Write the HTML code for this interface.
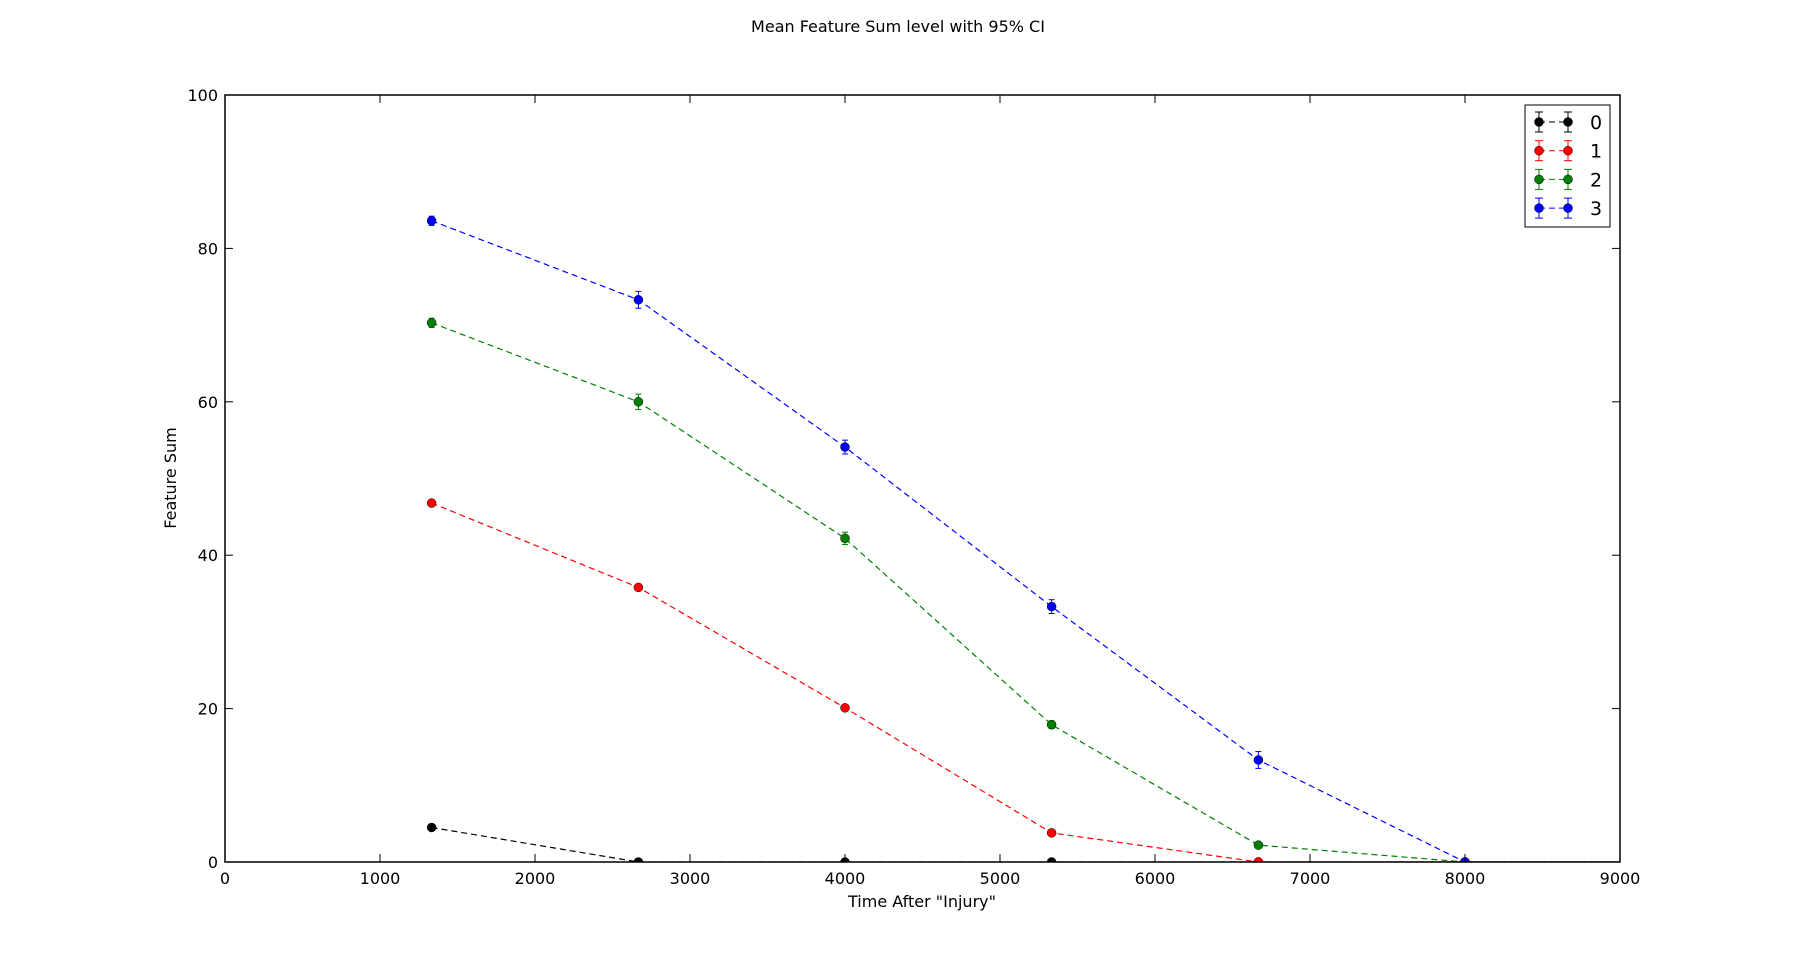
<!DOCTYPE html>
<html><head><meta charset="utf-8"><style>
body{margin:0;background:#fff;width:1800px;height:958px;overflow:hidden}
svg{display:block;font-family:"DejaVu Sans","Liberation Sans",sans-serif}
</style></head><body>
<svg id="chart" width="1800" height="958">
<text x="898" y="32" text-anchor="middle" font-size="16">Mean Feature Sum level with 95% CI</text>
<defs><clipPath id="clip"><rect x="225" y="95" width="1395" height="767"/></clipPath></defs>
<g id="grid"></g>
<g id="series" clip-path="url(#clip)"></g>
<rect x="225" y="95" width="1395" height="767" fill="none" stroke="#000" stroke-width="1.5"/>
<g id="ticks"></g>
<text x="922" y="907" text-anchor="middle" font-size="16">Time After "Injury"</text>
<text transform="translate(176,478) rotate(-90)" text-anchor="middle" font-size="16">Feature Sum</text>
<g id="legend"></g>
</svg>
<script>
const xs=[1333,2667,4000,5333,6667,8000,9333];
const seriesNames=["0","1","2","3"];
const colors=["#000000","#ff0000","#008000","#0000ff"];
const s0=[4.5,0,0,0,0,0,0];
const s1=[46.8,35.8,20.1,3.8,0,0,0];
const s2=[70.3,60.0,42.2,17.9,2.2,0,0];
const s3=[83.6,73.3,54.1,33.3,13.3,0,0];
const e0=[0.2,0.1,0.1,0.1,0,0,0];
const e1=[0.3,0.3,0.3,0.3,0.1,0,0];
const e2=[0.6,1.0,0.8,0.5,0.3,0,0];
const e3=[0.6,1.1,0.9,0.9,1.1,0.1,0];
const xTicks=[0,1000,2000,3000,4000,5000,6000,7000,8000,9000];
const yTicks=[0,20,40,60,80,100];
const NS="http://www.w3.org/2000/svg";
const X=v=>225+v/9000*1395, Y=v=>862-v/100*767;
function mk(t,a,p){const e=document.createElementNS(NS,t);for(const k in a)e.setAttribute(k,a[k]);p.appendChild(e);return e;}
const tk=document.getElementById('ticks');
xTicks.forEach(v=>{
 mk('line',{x1:X(v),x2:X(v),y1:862,y2:854,stroke:'#000'},tk);
 mk('line',{x1:X(v),x2:X(v),y1:95,y2:103,stroke:'#000'},tk);
 const t=mk('text',{x:X(v),y:884,'text-anchor':'middle','font-size':16},tk);t.textContent=v;
 
 
});
yTicks.forEach(v=>{
 mk('line',{x1:225,x2:233,y1:Y(v),y2:Y(v),stroke:'#000'},tk);
 mk('line',{x1:1620,x2:1612,y1:Y(v),y2:Y(v),stroke:'#000'},tk);
 const t=mk('text',{x:218,y:Y(v)+6,'text-anchor':'end','font-size':16},tk);t.textContent=v;
 
 
});
const sg=document.getElementById('series');
const data=[s0,s1,s2,s3], errs=[e0,e1,e2,e3];
data.forEach((s,i)=>{
 const g=mk('g',{},sg);
 
 
 mk('polyline',{points:s.map((v,j)=>X(xs[j])+','+Y(v)).join(' '),fill:'none',stroke:colors[i],'stroke-width':1.2,'stroke-dasharray':'6,4'},g);
 s.forEach((v,j)=>{
  const x=X(xs[j]),e=errs[i][j];
  if(e>0){mk('line',{x1:x,x2:x,y1:Y(v+e),y2:Y(v-e),stroke:colors[i]},g);
   mk('line',{x1:x-3,x2:x+3,y1:Y(v+e),y2:Y(v+e),stroke:colors[i]},g);
   mk('line',{x1:x-3,x2:x+3,y1:Y(v-e),y2:Y(v-e),stroke:colors[i]},g);}
  const c=mk('circle',{cx:x,cy:Y(v),r:4.5,fill:colors[i],stroke:'#000','stroke-width':0.5},g);
  
  
 });
});
const lg=document.getElementById('legend');


mk('rect',{x:1525,y:105,width:85,height:122,fill:'#fff',stroke:'#000','stroke-width':1},lg);
seriesNames.forEach((n,i)=>{
 const y=122+i*28.7;
 const g=mk('g',{},lg);
 
 
 mk('line',{x1:1539,x2:1568,y1:y,y2:y,stroke:colors[i],'stroke-dasharray':'6,4'},g);
 [1539,1568].forEach(x=>{
  mk('line',{x1:x,x2:x,y1:y-10,y2:y+10,stroke:colors[i]},g);
  mk('line',{x1:x-4,x2:x+4,y1:y-10,y2:y-10,stroke:colors[i]},g);
  mk('line',{x1:x-4,x2:x+4,y1:y+10,y2:y+10,stroke:colors[i]},g);
  mk('circle',{cx:x,cy:y,r:4.5,fill:colors[i],stroke:'#000','stroke-width':0.5},g);
 });
 const t=mk('text',{x:1590,y:y+7,'font-size':19},g);t.textContent=n;
});
</script>
</body></html>
